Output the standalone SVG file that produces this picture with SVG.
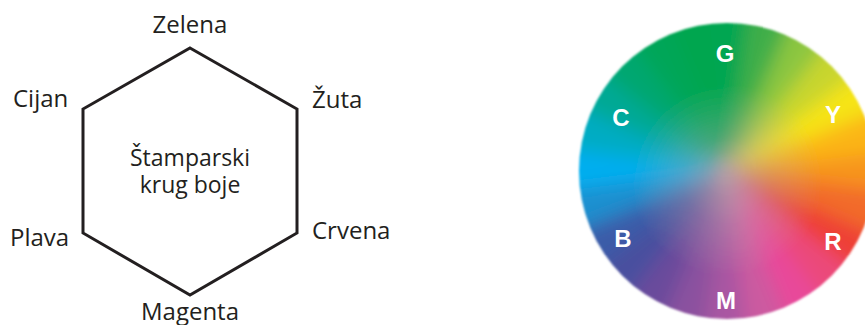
<svg xmlns="http://www.w3.org/2000/svg" xmlns:xlink="http://www.w3.org/1999/xlink" width="865" height="325" viewBox="0 0 865 325">
  <style>
    .lbl { font-family: "Open Sans", "Liberation Sans", sans-serif; font-size: 24px; fill: #231f20; }
    .mid { font-family: "Open Sans", "Liberation Sans", sans-serif; font-size: 23px; fill: #231f20; text-anchor: middle; }
    .hex { fill: none; stroke: #231f20; stroke-width: 3; stroke-linejoin: miter; }
    .wl { font-family: "Liberation Sans", Arial, sans-serif; font-weight: bold; font-size: 24px; fill: #ffffff; text-anchor: middle; }
  </style>
  <defs>
    <!-- one 16 degree wedge pointing east from the wheel centre -->
    <path id="w" d="M0,0 L200,-28.5 L200,28.5 Z"/>
    <clipPath id="disc">
      <circle cx="727" cy="171" r="148"/>
    </clipPath>
    <filter id="mix" x="-20%" y="-20%" width="140%" height="140%">
      <feGaussianBlur stdDeviation="9"/>
    </filter>
    <filter id="soft" x="-5%" y="-5%" width="110%" height="110%">
      <feGaussianBlur stdDeviation="1.2"/>
    </filter>
    <radialGradient id="core" cx="727" cy="180" r="148" gradientUnits="userSpaceOnUse">
      <stop offset="0" stop-color="#b4a2a6" stop-opacity="0.8"/>
      <stop offset="0.3" stop-color="#b8a8ac" stop-opacity="0.35"/>
      <stop offset="0.65" stop-color="#c0b0b0" stop-opacity="0"/>
    </radialGradient>
  </defs>

  <rect width="865" height="325" fill="#ffffff"/>

  <!-- printing colour hexagon -->
  <g id="hexagon">
    <polygon class="hex" points="190,48 297,109 297,233 190,295 83,233 83,109"/>
    <text class="mid" x="190" y="166">Štamparski</text>
    <text class="mid" x="190" y="193">krug boje</text>
  </g>
  <g id="zelena"><text class="lbl" x="190" y="33" text-anchor="middle">Zelena</text></g>
  <g id="zuta"><text class="lbl" x="312" y="108">Žuta</text></g>
  <g id="crvena"><text class="lbl" x="312" y="239">Crvena</text></g>
  <g id="magenta"><text class="lbl" x="190" y="320" text-anchor="middle">Magenta</text></g>
  <g id="plava"><text class="lbl" x="10" y="246">Plava</text></g>
  <g id="cijan"><text class="lbl" x="13" y="107">Cijan</text></g>

  <!-- colour wheel: blurred wedges clipped to a disc -->
  <g id="wheel" filter="url(#soft)">
    <g clip-path="url(#disc)">
      <g filter="url(#mix)" transform="translate(727,171)">
        <use xlink:href="#w" fill="#f7941d" transform="rotate(0)"/>
        <use xlink:href="#w" fill="#fbb516" transform="rotate(-15)"/>
        <use xlink:href="#w" fill="#f6e418" transform="rotate(-30)"/>
        <use xlink:href="#w" fill="#c8d52e" transform="rotate(-45)"/>
        <use xlink:href="#w" fill="#8cc63f" transform="rotate(-60)"/>
        <use xlink:href="#w" fill="#3fae49" transform="rotate(-75)"/>
        <use xlink:href="#w" fill="#00a651" transform="rotate(-90)"/>
        <use xlink:href="#w" fill="#00a650" transform="rotate(-105)"/>
        <use xlink:href="#w" fill="#00a658" transform="rotate(-120)"/>
        <use xlink:href="#w" fill="#00a770" transform="rotate(-135)"/>
        <use xlink:href="#w" fill="#00a994" transform="rotate(-150)"/>
        <use xlink:href="#w" fill="#00acc2" transform="rotate(-165)"/>
        <use xlink:href="#w" fill="#00aeef" transform="rotate(-180)"/>
        <use xlink:href="#w" fill="#1b8fcf" transform="rotate(-195)"/>
        <use xlink:href="#w" fill="#3a5ba8" transform="rotate(-210)"/>
        <use xlink:href="#w" fill="#4a4f9f" transform="rotate(-225)"/>
        <use xlink:href="#w" fill="#6a4c9c" transform="rotate(-240)"/>
        <use xlink:href="#w" fill="#8b519f" transform="rotate(-255)"/>
        <use xlink:href="#w" fill="#a957a2" transform="rotate(-270)"/>
        <use xlink:href="#w" fill="#cc5aa0" transform="rotate(-285)"/>
        <use xlink:href="#w" fill="#e8499a" transform="rotate(-300)"/>
        <use xlink:href="#w" fill="#eb4a7a" transform="rotate(-315)"/>
        <use xlink:href="#w" fill="#ee4136" transform="rotate(-330)"/>
        <use xlink:href="#w" fill="#f26a2a" transform="rotate(-345)"/>
      </g>
      <circle cx="727" cy="171" r="148" fill="url(#core)"/>
    </g>
  </g>

  <g id="wheel-labels">
    <text class="wl" x="725" y="62">G</text>
    <text class="wl" x="621" y="126">C</text>
    <text class="wl" x="833" y="123">Y</text>
    <text class="wl" x="623" y="247">B</text>
    <text class="wl" x="833" y="250">R</text>
    <text class="wl" x="726" y="309">M</text>
  </g>
</svg>
